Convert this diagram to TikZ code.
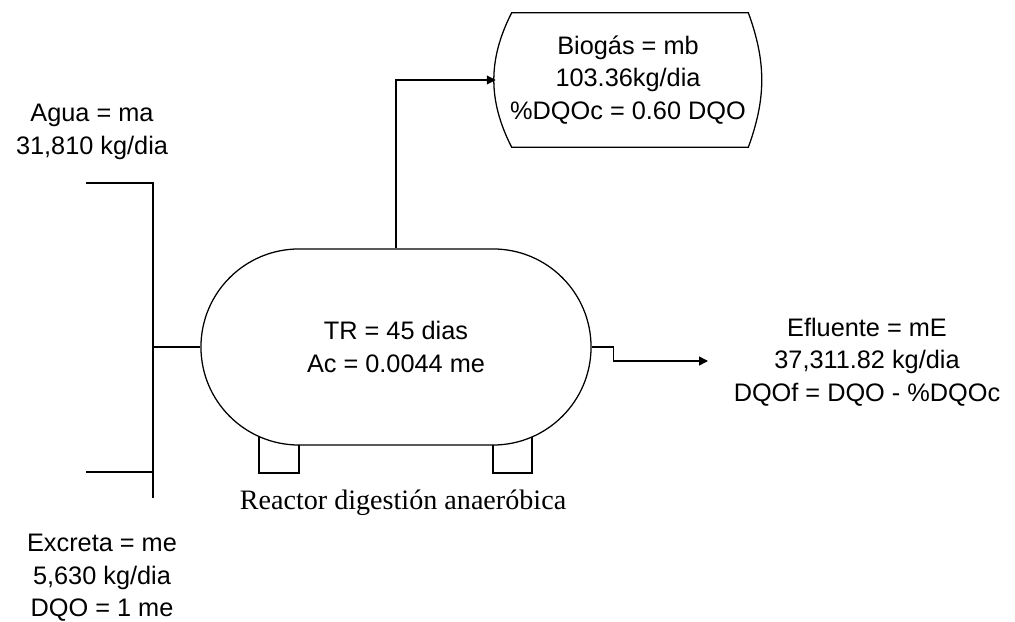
\documentclass[tikz,border=0pt]{standalone}
\usepackage{fontspec}
\setmainfont{Liberation Serif}
\setsansfont{Liberation Sans}
\usetikzlibrary{arrows.meta,positioning,shapes.misc}

\begin{document}
\begin{tikzpicture}[x=0.025cm,y=-0.025cm,
  tubo/.style={line width=0.9pt,black},
  etiq/.style={font=\sffamily\fontsize{18}{23}\selectfont,align=center,inner sep=0pt},
  tanque/.style={rounded rectangle,draw,line width=0.9pt,minimum width=9.75cm,minimum height=4.9cm,inner sep=0pt,font=\sffamily\fontsize{18}{23}\selectfont,align=center},
  caja/.style={minimum width=6.6cm,minimum height=3.35cm,inner sep=0pt,font=\sffamily\fontsize{18}{23}\selectfont,align=center},
  flecha/.style={-{Triangle[length=2.2mm,width=2.2mm]}}]
\useasboundingbox (0,0) rectangle (1015,622);
% reactor y biogas
\node[tanque] (reactor) at (396,347) {TR = 45 dias\\Ac = 0.0044 me};
\node[caja] (bio) at (628,80) {Biogás = mb\\103.36kg/dia\\\%DQOc = 0.60 DQO};
\draw[tubo] ([xshift=0.4cm]bio.north west) -- ([xshift=-0.3cm]bio.north east)
  to[bend left=20] ([xshift=-0.3cm]bio.south east) -- ([xshift=0.4cm]bio.south west)
  to[bend left=27] ([xshift=0.4cm]bio.north west) -- cycle;
% patas
\draw[tubo] (259,436) -- (259,473) -- (299,473) -- (299,445);
\draw[tubo] (493,445) -- (493,473) -- (532,473) -- (532,437);
\node[font=\fontsize{20}{24}\selectfont,inner sep=0pt] (rotulo) at (403,503) {Reactor digestión anaeróbica};
% entradas
\node[etiq] (agua) at (92,132) {Agua = ma\\31,810 kg/dia};
\node[etiq] (excreta) at (102,578) {Excreta = me\\5,630 kg/dia\\DQO = 1 me};
\coordinate (ma) at (86,183);
\coordinate (me) at (86,472);
\coordinate (col) at (153,498);
\draw[tubo] (ma) -| (col);
\draw[tubo] (me) -- (me -| col);
\draw[tubo] (reactor.west) -- (reactor.west -| col);
% salidas
\draw[tubo,flecha] (reactor.north) |- (bio.west);
\node[etiq] (efluente) at (867,362) {Efluente = mE\\37,311.82 kg/dia\\DQOf = DQO - \%DQOc};
\coordinate (sal) at (708,361);
\draw[tubo,flecha] (reactor.east) -- ++(22,0) |- (sal);
\end{tikzpicture}
\end{document}
